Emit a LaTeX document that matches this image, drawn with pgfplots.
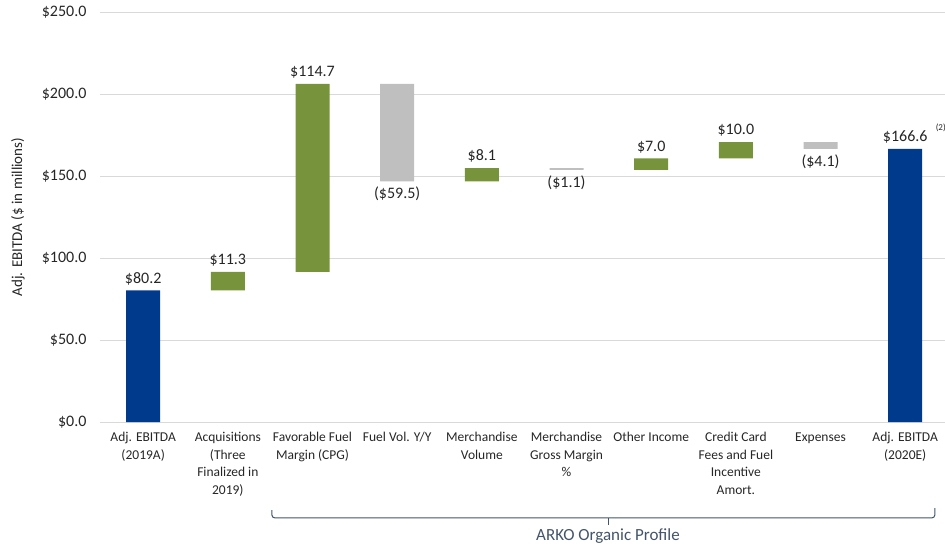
\documentclass[border=0pt]{standalone}
\usepackage{pgfplots}
\pgfplotsset{compat=1.18}
\usepackage{pgfplotstable}
\usepackage{fontspec}
\setmainfont{Carlito}
\definecolor{navyc}{HTML}{003A8C}
\definecolor{olivec}{HTML}{77933C}
\definecolor{lgray}{HTML}{BFBFBF}
\definecolor{gridc}{HTML}{D9D9D9}
\definecolor{slatec}{HTML}{44546A}
\definecolor{txtc}{HTML}{262626}
\pgfplotstableread{
x base total inc dec
0 0     80.2  0     0
1 80.2  0     11.3  0
2 91.5  0     114.7 0
3 146.7 0     0     59.5
4 146.7 0     8.1   0
5 153.7 0     0     1.1
6 153.7 0     7.0   0
7 160.7 0     10.0  0
8 166.6 0     0     4.1
9 0     166.6 0     0
}\wfdata
\tikzset{vlab/.style={font=\fontsize{16}{18}\selectfont, text=txtc}}
\begin{document}
\begin{tikzpicture}
\begin{axis}[
  name=ax,
  scale only axis, width=845pt, height=410pt,
  ybar stacked, bar width=34pt,
  xmin=-0.51, xmax=9.47, ymin=0, ymax=250,
  axis line style={draw=none},
  ymajorgrids, grid style={gridc, line width=0.9pt},
  ytick={0,50,100,150,200,250},
  yticklabels={\$0.0,\$50.0,\$100.0,\$150.0,\$200.0,\$250.0},
  yticklabel style={font=\fontsize{16}{18}\selectfont, text=txtc, xshift=-10pt},
  xtick={0,...,9},
  xticklabels={{Adj. EBITDA\\(2019A)},{Acquisitions\\(Three\\Finalized in\\2019)},{Favorable Fuel\\Margin (CPG)},{Fuel Vol. Y/Y},{Merchandise\\Volume},{Merchandise\\Gross Margin\\\symbol{37}},{Other Income},{Credit Card\\Fees and Fuel\\Incentive\\Amort.},{Expenses},{Adj. EBITDA\\(2020E)}},
  xticklabel style={font=\fontsize{13.5}{17.5}\selectfont, text=txtc, align=center, anchor=north, yshift=-7pt},
  tick style={draw=none},
  ylabel={Adj. EBITDA (\$ in millions)},
  every axis y label/.style={at={(-0.097,0.5)}, rotate=90, anchor=center, font=\fontsize{15}{17}\selectfont, text=txtc},
  clip=false,
]
\addplot[draw=none, fill=none] table[x=x,y=base]{\wfdata};
\addplot[draw=none, fill=navyc] table[x=x,y=total]{\wfdata};
\addplot[draw=none, fill=olivec] table[x=x,y=inc]{\wfdata};
\addplot[draw=none, fill=lgray] table[x=x,y=dec]{\wfdata};
\node[vlab, anchor=south] at (axis cs:0,81.5) {\$80.2};
\node[vlab, anchor=south] at (axis cs:1,92.8) {\$11.3};
\node[vlab, anchor=south] at (axis cs:2,207.5) {\$114.7};
\node[vlab, anchor=north] at (axis cs:3,145.4) {(\$59.5)};
\node[vlab, anchor=south] at (axis cs:4,156.1) {\$8.1};
\node[vlab, anchor=north] at (axis cs:5,152.4) {(\$1.1)};
\node[vlab, anchor=south] at (axis cs:6,162.0) {\$7.0};
\node[vlab, anchor=south] at (axis cs:7,172.0) {\$10.0};
\node[vlab, anchor=north] at (axis cs:8,165.3) {(\$4.1)};
\node[vlab, anchor=south] at (axis cs:9,167.9) {\$166.6};
\node[font=\fontsize{9}{10}\selectfont, text=txtc] at (axis cs:9.42,179.5) {(2)};
\draw[slatec, line width=1pt, rounded corners=3pt] (axis cs:1.52,-53.7) -- (axis cs:1.52,-58.5) -- (axis cs:9.35,-58.5) -- (axis cs:9.35,-52.5);
\draw[slatec, line width=1pt] (axis cs:5.49,-58.5) -- (axis cs:5.49,-62.5);
\node[text=slatec, font=\fontsize{17}{20}\selectfont] at (axis cs:5.49,-69.5) {ARKO Organic Profile};
\end{axis}
\pgfresetboundingbox
\path[use as bounding box] ([xshift=-100pt,yshift=-128pt]ax.south west) rectangle ([yshift=12pt]ax.north east);
\end{tikzpicture}
\end{document}
